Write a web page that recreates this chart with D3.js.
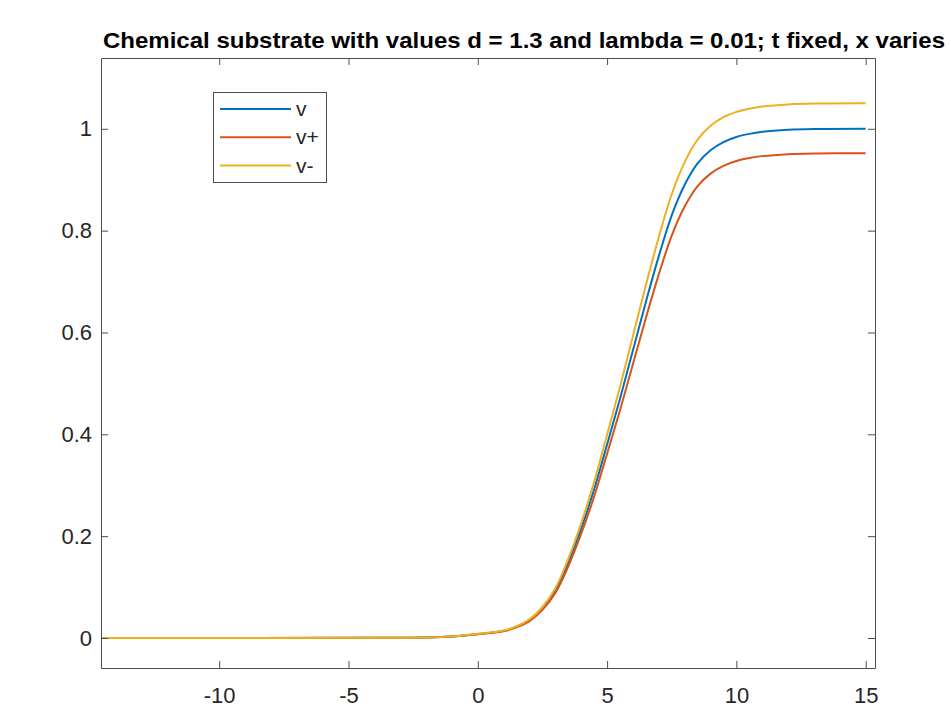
<html>
<head>
	<meta charset="utf-8">
	<script src="https://cdn.jsdelivr.net/npm/d3@7"></script>
	<style>
		body { margin: 0; background: #fff; }
		text { font-family: Arial, "Liberation Sans", sans-serif; }
	</style>
</head>
<body>
	<script type="text/javascript">

		// values
		var xs     = [-14.57, -4, -2, -1, 0, 1, 1.5, 2, 2.5, 3, 3.5, 4, 4.5, 5, 5.5, 6, 6.5, 7, 7.5, 8, 8.5, 9, 9.5, 10, 10.5, 11, 12, 13, 15];
		var v      = [0, 0.0003, 0.001, 0.003, 0.008, 0.014, 0.022, 0.035, 0.058, 0.093, 0.148, 0.215, 0.292, 0.38, 0.47, 0.565, 0.66, 0.75, 0.83, 0.89, 0.932, 0.958, 0.974, 0.984, 0.99, 0.994, 0.998, 0.9995, 1.0];
		var vPlus  = [0, 0.0003, 0.001, 0.0029, 0.0076, 0.0133, 0.0209, 0.0333, 0.0552, 0.0885, 0.1409, 0.2047, 0.278, 0.3618, 0.4474, 0.5379, 0.6283, 0.714, 0.7902, 0.8473, 0.8873, 0.912, 0.9272, 0.9368, 0.9425, 0.9463, 0.9501, 0.9515, 0.952];
		var vMinus = [0, 0.0003, 0.001, 0.0032, 0.0084, 0.0147, 0.0231, 0.0368, 0.0609, 0.0977, 0.1554, 0.2258, 0.3066, 0.399, 0.4935, 0.5933, 0.693, 0.7875, 0.8715, 0.9345, 0.9786, 1.0059, 1.0227, 1.0332, 1.0395, 1.0437, 1.0479, 1.0495, 1.05];
		var seriesNames = ["v", "v+", "v-"];
		var xTicks = [-10, -5, 0, 5, 10, 15];
		var yTicks = [0, 0.2, 0.4, 0.6, 0.8, 1];
		var title = "Chemical substrate with values d = 1.3 and lambda = 0.01; t fixed, x varies";

		var width = 951, height = 708;
		// plot box (don't use "top", it clashes with window.top)
		var pLeft = 101, pRight = 875, pTop = 58, pBottom = 668;
		var colors = ["#0072BD", "#D95319", "#EDB120"];
		var axisColor = "#4d4d4d";

		var svg = d3.select("body").append("svg")
			.attr("width", width)
			.attr("height", height);

		var x = d3.scaleLinear().domain([-14.57, 15.36]).range([pLeft, pRight]);
		var y = d3.scaleLinear().domain([-0.0589, 1.139]).range([pBottom, pTop]);

		// title
		svg.append("text")
			.attr("x", 103)
			.attr("y", 48)
			.attr("font-size", 22)
			.attr("font-weight", "bold")
			.attr("textLength", 842)
			.attr("lengthAdjust", "spacingAndGlyphs")
			.text(title);

		// lines
		var series = [v, vPlus, vMinus];
		var line = d3.line()
			.x(function(d){ return x(d[0]); })
			.y(function(d){ return y(d[1]); })
			.curve(d3.curveCatmullRom.alpha(0.5));

		series.forEach(function(s, i){
			svg.append("path")
				.datum(xs.map(function(xv, j){ return [xv, s[j]]; }))
				.attr("fill", "none")
				.attr("stroke", colors[i])
				.attr("stroke-width", 2)
				.attr("d", line);
		});

		// axes (box with ticks inside, matlab style)
		var tickLen = 7;
		var fmt = function(d){ return String(d); };
		var axB = svg.append("g").attr("transform", "translate(0," + pBottom + ")")
			.call(d3.axisBottom(x).tickValues(xTicks).tickSize(-tickLen).tickPadding(19).tickFormat(fmt).tickSizeOuter(0));
		var axT = svg.append("g").attr("transform", "translate(0," + pTop + ")")
			.call(d3.axisTop(x).tickValues(xTicks).tickSize(-tickLen).tickFormat("").tickSizeOuter(0));
		var axL = svg.append("g").attr("transform", "translate(" + pLeft + ",0)")
			.call(d3.axisLeft(y).tickValues(yTicks).tickSize(-tickLen).tickPadding(9).tickFormat(fmt).tickSizeOuter(0));
		var axR = svg.append("g").attr("transform", "translate(" + pRight + ",0)")
			.call(d3.axisRight(y).tickValues(yTicks).tickSize(-tickLen).tickFormat("").tickSizeOuter(0));

		[axB, axT, axL, axR].forEach(function(a){
			a.select(".domain").attr("stroke", axisColor);
			a.selectAll(".tick line").attr("stroke", axisColor);
			a.selectAll("text").attr("font-size", 22).attr("fill", "#262626")
				.attr("font-family", "Arial, 'Liberation Sans', sans-serif");
		});

		// legend
		var lg = svg.append("g");
		lg.append("rect")
			.attr("x", 213.5).attr("y", 92.5)
			.attr("width", 113).attr("height", 90)
			.attr("fill", "#fff")
			.attr("stroke", axisColor);
		seriesNames.forEach(function(name, i){
			var ly = 109 + i * 28.3;
			lg.append("line")
				.attr("x1", 220).attr("x2", 291)
				.attr("y1", ly).attr("y2", ly)
				.attr("stroke", colors[i])
				.attr("stroke-width", 2);
			lg.append("text")
				.attr("x", 296)
				.attr("y", ly + 7)
				.attr("font-size", 21)
				.attr("fill", "#262626")
				.text(name);
		});

	</script>
</body>
</html>
